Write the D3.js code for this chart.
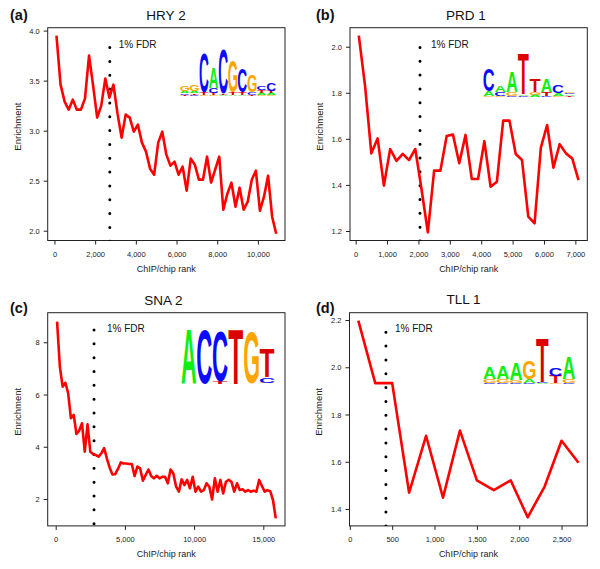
<!DOCTYPE html>
<html><head><meta charset="utf-8">
<script src="https://cdn.jsdelivr.net/npm/d3@7"></script>
<style>body{margin:0;background:#fff} svg{display:block}</style>
</head><body>
<svg id="chart" width="600" height="569"></svg>
<script>
// ---------- data ----------
const hryRank = [100,300,500,700,900,1100,1300,1500,1700,1900,2100,2300,2500,2700,2900,3100,3300,3500,3700,3900,4100,4300,4500,4700,4900,5100,5300,5500,5700,5900,6100,6300,6500,6700,6900,7100,7300,7500,7700,7900,8100,8300,8500,8700,8900,9100,9300,9500,9700,9900,10100,10300,10500,10700,10900];
const hryEnrich = [3.95,3.46,3.29,3.21,3.31,3.21,3.21,3.32,3.75,3.45,3.13,3.25,3.52,3.33,3.46,3.17,2.93,3.16,3.13,2.99,3.06,2.88,2.79,2.62,2.56,2.88,2.99,2.76,2.65,2.69,2.56,2.64,2.40,2.72,2.66,2.51,2.51,2.74,2.48,2.61,2.74,2.21,2.37,2.48,2.24,2.43,2.21,2.29,2.51,2.60,2.20,2.34,2.55,2.14,1.97];
const hryXTicks = [0,2000,4000,6000,8000,10000];
const hryYTicks = [2.0,2.5,3.0,3.5,4.0];

const prdRank = [100,300,500,700,900,1100,1300,1500,1700,1900,2100,2300,2500,2700,2900,3100,3300,3500,3700,3900,4100,4300,4500,4700,4900,5100,5300,5500,5700,5900,6100,6300,6500,6700,6900,7100];
const prdEnrich = [2.048,1.83,1.537,1.602,1.397,1.556,1.504,1.535,1.508,1.556,1.38,1.194,1.462,1.462,1.612,1.619,1.494,1.617,1.426,1.426,1.590,1.392,1.414,1.679,1.679,1.534,1.508,1.262,1.233,1.562,1.660,1.475,1.577,1.537,1.515,1.421];
const prdXTicks = [0,1000,2000,3000,4000,5000,6000,7000];
const prdYTicks = [1.2,1.4,1.6,1.8,2.0];

const snaRank = [100,300,500,700,900,1100,1300,1500,1700,1900,2100,2300,2500,2700,2900,3100,3300,3500,3700,3900,4100,4300,4500,4700,4900,5100,5300,5500,5700,5900,6100,6300,6500,6700,6900,7100,7300,7500,7700,7900,8100,8300,8500,8700,8900,9100,9300,9500,9700,9900,10100,10300,10500,10700,10900,11100,11300,11500,11700,11900,12100,12300,12500,12700,12900,13100,13300,13500,13700,13900,14100,14300,14500,14700,14900,15100,15300,15500,15700,15900];
const snaEnrich = [8.79,7.07,6.30,6.45,6.05,5.09,5.22,4.49,4.62,4.90,3.81,4.86,3.81,3.72,3.68,3.62,3.75,3.95,3.55,3.20,2.94,2.95,3.15,3.40,3.36,3.36,3.34,3.34,2.88,3.24,3.17,2.70,2.92,3.13,2.88,2.79,2.89,2.79,2.85,2.85,
  2.60,3.13,2.98,2.47,2.28,2.75,2.53,2.73,2.41,2.85,2.28,2.47,2.28,2.34,2.60,2.47,1.98,2.79,2.28,2.73,2.21,2.66,2.73,2.66,2.28,2.60,2.34,2.37,2.28,2.34,2.28,2.32,2.28,2.73,2.50,2.28,2.34,2.30,1.96,1.26];
const snaXTicks = [0,5000,10000,15000];
const snaYTicks = [2,4,6,8];

const tllRank = [100,300,500,700,900,1100,1300,1500,1700,1900,2100,2300,2500,2700];
const tllEnrich = [2.197,1.933,1.933,1.469,1.710,1.448,1.732,1.521,1.480,1.521,1.365,1.495,1.689,1.596];
const tllXTicks = [0,500,1000,1500,2000,2500];
const tllYTicks = [1.4,1.6,1.8,2.0,2.2];

// FDR cut-offs (rank) and the top of the dotted marker (enrichment)
const fdrRank = [2720, 2050, 2770, 426];
const fdrTop = [3.83, 1.997, 8.47, 2.148];

// sequence logos: columns, letters bottom -> top, heights in bits
const logoHRY = [
  [["T",0.06],["C",0.06],["A",0.08],["G",0.22]],
  [["C",0.05],["T",0.06],["A",0.08],["G",0.25]],
  [["G",0.05],["T",0.1],["C",1.65]],
  [["G",0.04],["T",0.08],["C",0.2],["A",0.85]],
  [["A",0.05],["T",0.06],["C",1.85]],
  [["A",0.06],["T",0.1],["G",1.3]],
  [["A",0.05],["T",0.12],["C",1.0]],
  [["T",0.06],["C",0.1],["G",0.7]],
  [["G",0.06],["A",0.08],["T",0.1],["C",0.15]],
  [["G",0.06],["A",0.08],["T",0.08],["C",0.3]]
];
const logoPRD = [
  [["G",0.04],["A",0.2],["C",0.9]],
  [["G",0.04],["C",0.17],["A",0.28]],
  [["C",0.04],["G",0.17],["A",0.85]],
  [["C",0.05],["A",0.06],["T",1.7]],
  [["A",0.08],["G",0.12],["T",0.55]],
  [["C",0.05],["T",0.15],["A",0.55]],
  [["G",0.06],["A",0.12],["C",0.35]],
  [["T",0.05],["A",0.06],["C",0.06],["G",0.07]]
];
const logoSNA = [
  [["A",2.0]],
  [["C",1.96]],
  [["T",0.08],["C",1.82]],
  [["T",1.96]],
  [["G",1.85]],
  [["G",0.03],["C",0.2],["T",1.03]]
];
const logoTLL = [
  [["C",0.06],["G",0.14],["A",0.5]],
  [["C",0.06],["G",0.14],["A",0.56]],
  [["C",0.05],["G",0.12],["A",0.68]],
  [["C",0.04],["A",0.16],["G",0.75]],
  [["A",0.04],["C",0.05],["T",1.85]],
  [["G",0.04],["T",0.3],["C",0.35]],
  [["C",0.04],["G",0.18],["A",0.9]]
];

const panelLetters = ["(a)","(b)","(c)","(d)"];
const panelTitles = ["HRY 2","PRD 1","SNA 2","TLL 1"];

// ---------- layout ----------
const FONT = "'Liberation Sans', Arial, Helvetica, sans-serif";
const baseColors = {A:"#11ee11", C:"#0a0aff", G:"#ffa500", T:"#dd0000"};

const panels = [
  {rank:hryRank, val:hryEnrich, xt:hryXTicks, yt:hryYTicks, yfmt:d3.format(".1f"), logo:logoHRY,
   box:[47.7,285,27.7,240.5], xd:[-332,11332], yd:[1.902,4.029],
   titleX:166, titleY:20, letX:10, letY:20, fdrDx:9, fdrY:48,
   lg:{x:180, w:96, base:96, ppb:24}},
  {rank:prdRank, val:prdEnrich, xt:prdXTicks, yt:prdYTicks, yfmt:d3.format(".1f"), logo:logoPRD,
   box:[350,587.3,27.7,240.5], xd:[-180,7380], yd:[1.1588,2.0825],
   titleX:466, titleY:20, letX:316, letY:20, fdrDx:11, fdrY:48,
   lg:{x:483, w:92.5, base:97, ppb:24}},
  {rank:snaRank, val:snaEnrich, xt:snaXTicks, yt:snaYTicks, yfmt:d3.format("d"), logo:logoSNA,
   box:[47.7,285,312.7,525.9], xd:[-578,16568], yd:[0.970,9.133],
   titleX:163.5, titleY:305, letX:10, letY:313, fdrDx:13, fdrY:332,
   lg:{x:181, w:94, base:383.5, ppb:27.5}},
  {rank:tllRank, val:tllEnrich, xt:tllXTicks, yt:tllYTicks, yfmt:d3.format(".1f"), logo:logoTLL,
   box:[349.5,587.3,312.7,525.9], xd:[-4,2804], yd:[1.3285,2.2309],
   titleX:463.5, titleY:304, letX:316, letY:313, fdrDx:9, fdrY:332,
   lg:{x:483, w:92.5, base:384, ppb:24}}
];

const svg = d3.select("#chart");
const defs = svg.append("defs");

// measure letter ink boxes
const cv = document.createElement("canvas").getContext("2d");
cv.font = "bold 100px " + FONT;
const ink = {};
["A","C","G","T"].forEach(L => {
  const m = cv.measureText(L);
  ink[L] = {l:m.actualBoundingBoxLeft, r:m.actualBoundingBoxRight, a:m.actualBoundingBoxAscent, d:m.actualBoundingBoxDescent};
});

panels.forEach((p, i) => {
  const [x0,x1,y0,y1] = p.box;
  const x = d3.scaleLinear().domain(p.xd).range([x0,x1]);
  const y = d3.scaleLinear().domain(p.yd).range([y1,y0]);
  const g = svg.append("g");

  defs.append("clipPath").attr("id","clip"+i).append("rect")
    .attr("x",x0).attr("y",y0).attr("width",x1-x0).attr("height",y1-y0);

  // x axis
  const xa = g.append("g").attr("transform",`translate(0,${y1})`)
    .call(d3.axisBottom(x).tickValues(p.xt).tickSize(4).tickSizeOuter(0).tickPadding(4).tickFormat(d3.format(",")));
  xa.select(".domain").remove();
  xa.selectAll("line").attr("stroke","#222");
  xa.selectAll("text").attr("font-family",FONT).attr("font-size",7.5).attr("fill","#222")
    .attr("dy",null).attr("y",16);

  // y axis
  const ya = g.append("g").attr("transform",`translate(${x0},0)`)
    .call(d3.axisLeft(y).tickValues(p.yt).tickSize(4).tickSizeOuter(0).tickPadding(4).tickFormat(p.yfmt));
  ya.select(".domain").remove();
  ya.selectAll("line").attr("stroke","#222");
  ya.selectAll("text").attr("font-family",FONT).attr("font-size",7.5).attr("fill","#222")
    .attr("dy","0.34em").attr("x",-8);

  // box
  g.append("rect").attr("x",x0).attr("y",y0).attr("width",x1-x0).attr("height",y1-y0)
    .attr("fill","none").attr("stroke","#222").attr("stroke-width",1);

  // axis titles
  g.append("text").attr("x",(x0+x1)/2).attr("y",y1+31).attr("text-anchor","middle")
    .attr("font-family",FONT).attr("font-size",9).attr("fill","#222").text("ChIP/chip rank");
  const ycx = x0 - 30.5, ycy = (y0+y1)/2 - 7.5;
  g.append("text").attr("transform",`translate(${ycx+3.3},${ycy}) rotate(-90)`).attr("text-anchor","middle")
    .attr("font-family",FONT).attr("font-size",9.5).attr("fill","#222").text("Enrichment");

  // title and panel letter
  g.append("text").attr("x",p.titleX).attr("y",p.titleY).attr("text-anchor","middle")
    .attr("font-family",FONT).attr("font-size",13.5).attr("fill","#111").text(panelTitles[i]);
  g.append("text").attr("x",p.letX).attr("y",p.letY)
    .attr("font-family",FONT).attr("font-size",14.5).attr("font-weight","bold").attr("fill","#111").text(panelLetters[i]);

  const plot = g.append("g").attr("clip-path",`url(#clip${i})`);

  // FDR dotted marker
  const fx = x(fdrRank[i]);
  plot.append("line").attr("x1",fx).attr("x2",fx).attr("y1",y(fdrTop[i])).attr("y2",y1+2)
    .attr("stroke","#000").attr("stroke-width",3).attr("stroke-linecap","round")
    .attr("stroke-dasharray","0 13.83");
  g.append("text").attr("x",fx+p.fdrDx).attr("y",p.fdrY)
    .attr("font-family",FONT).attr("font-size",10).attr("fill","#111").text("1% FDR");

  // enrichment line
  const pts = p.rank.map((r,k)=>[r,p.val[k]]);
  plot.append("path").datum(pts)
    .attr("d", d3.line().x(d=>x(d[0])).y(d=>y(d[1])))
    .attr("fill","none").attr("stroke","#ff0000").attr("stroke-width",2.6).attr("stroke-linejoin","round");

  // sequence logo
  const lg = p.lg, cw = lg.w / p.logo.length;
  const lgG = g.append("g");
  p.logo.forEach((col, c) => {
    let yb = lg.base;
    const cx0 = lg.x + c*cw + cw*0.03, w = cw*0.94;
    col.forEach(([L, bits]) => {
      const h = bits * lg.ppb;
      const b = ink[L];
      const sx = w / (b.l + b.r), sy = h / (b.a + b.d);
      lgG.append("text").text(L)
        .attr("font-family",FONT).attr("font-weight","bold").attr("font-size",100)
        .attr("fill",baseColors[L])
        .attr("transform",`translate(${cx0 + b.l*sx},${yb - b.d*sy}) scale(${sx},${sy})`);
      yb -= h;
    });
  });
});
</script>
</body></html>
